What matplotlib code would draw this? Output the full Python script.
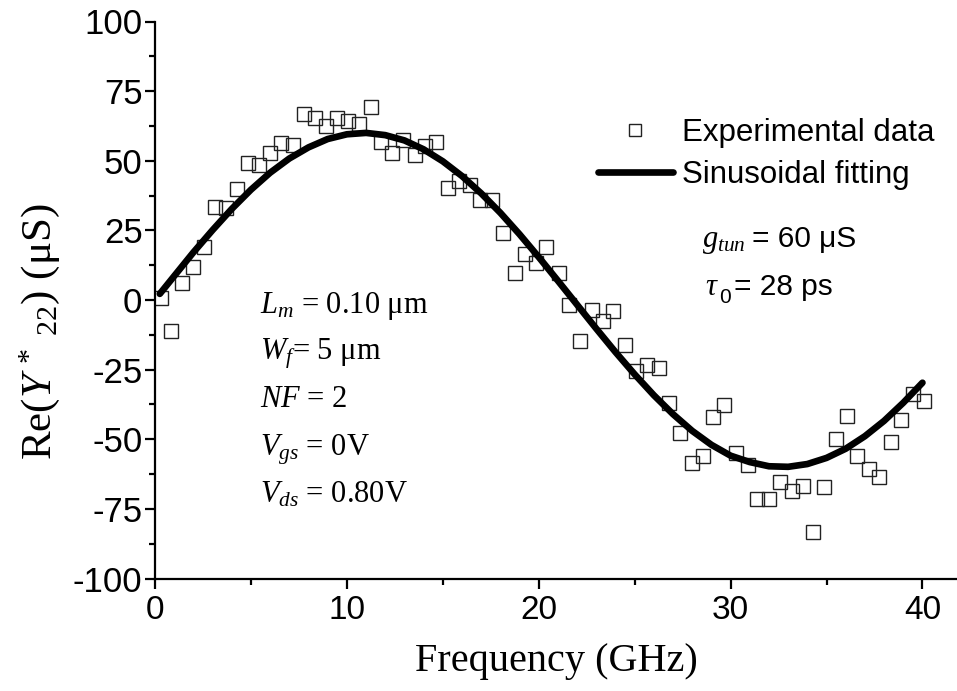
import matplotlib
matplotlib.use("Agg")
import matplotlib.pyplot as plt
from matplotlib.ticker import MultipleLocator

# ---- data ----
freq_exp = [0.33, 0.82, 1.39, 1.96, 2.55, 3.13, 3.70, 4.29, 4.86, 5.43,
            6.00, 6.58, 7.17, 7.76, 8.33, 8.91, 9.48, 10.07, 10.64, 11.25,
            11.76, 12.36, 12.93, 13.56, 14.05, 14.64, 15.26, 15.83, 16.44, 16.96,
            17.55, 18.14, 18.75, 19.31, 19.84, 20.40, 21.06, 21.56, 22.17, 22.78,
            23.35, 23.87, 24.48, 25.05, 25.66, 26.27, 26.79, 27.34, 27.98, 28.56,
            29.08, 29.65, 30.30, 30.90, 31.37, 31.99, 32.59, 33.19, 33.77, 34.27,
            34.86, 35.49, 36.08, 36.60, 37.19, 37.76, 38.37, 38.87, 39.49, 40.07]
re_exp = [0.8, -11.1, 6.0, 11.7, 18.9, 33.5, 32.9, 39.9, 49.2, 48.5,
          52.7, 56.3, 55.7, 66.8, 65.4, 62.6, 65.2, 64.3, 63.1, 69.2,
          56.6, 52.9, 57.5, 52.2, 55.3, 56.6, 40.1, 42.7, 41.3, 35.9,
          35.9, 23.9, 9.6, 16.4, 13.2, 19.1, 9.6, -1.8, -14.7, -3.6,
          -7.5, -3.8, -16.2, -25.4, -23.3, -24.5, -37.1, -47.9, -58.6, -56.0,
          -41.9, -37.7, -55.0, -59.2, -71.5, -71.5, -65.2, -68.6, -66.7, -83.2,
          -67.3, -49.9, -41.7, -55.9, -60.7, -63.7, -51.1, -43.1, -33.8, -36.2]

freq_fit = [0.25, 1, 2, 3, 4, 5, 6, 7, 8, 9, 10, 11, 12, 13, 14, 15, 16, 17, 18, 19, 20,
            21, 22, 23, 24, 25, 26, 27, 28, 29, 30, 31, 32, 33, 34, 35, 36, 37, 38, 39, 40]
re_fit = [2.2, 8.6, 17.1, 25.1, 32.7, 39.6, 45.7, 50.8, 54.8, 57.8, 59.5, 60.0, 59.2,
          57.3, 54.1, 49.8, 44.5, 38.3, 31.3, 23.6, 15.4, 6.9, -1.7, -10.3, -18.7,
          -26.7, -34.2, -41.0, -47.0, -52.0, -55.9, -58.2, -59.7, -59.9, -58.9,
          -56.7, -53.4, -48.9, -43.4, -36.9, -29.7]

x_ticks = [0, 10, 20, 30, 40]
y_ticks = [-100, -75, -50, -25, 0, 25, 50, 75, 100]

serif = ['Liberation Serif', 'DejaVu Serif']
sans = ['Liberation Sans', 'DejaVu Sans']
plt.rcParams['axes.unicode_minus'] = False
plt.rcParams['mathtext.fontset'] = 'custom'
plt.rcParams['mathtext.rm'] = 'Liberation Serif'
plt.rcParams['mathtext.it'] = 'Liberation Serif:italic'
plt.rcParams['mathtext.bf'] = 'Liberation Serif:bold'

fig = plt.figure(figsize=(9.57, 6.91), dpi=100)
ax = fig.add_axes([155/957, (691-578.5)/691, (957-155)/957, 557/691])

ax.plot(freq_exp, re_exp, linestyle='none', marker='s', markersize=10.2,
        markerfacecolor='none', markeredgecolor='#222222', markeredgewidth=1.0,
        label='Experimental data')
ax.plot(freq_fit, re_fit, color='black', linewidth=4.8, solid_capstyle='round',
        solid_joinstyle='round', label='Sinusoidal fitting')

ax.set_xlim(0, 41.8)
ax.set_ylim(-100, 100)
ax.set_xticks(x_ticks)
ax.set_yticks(y_ticks)
ax.xaxis.set_minor_locator(MultipleLocator(5))
ax.yaxis.set_minor_locator(MultipleLocator(12.5))
for s in ['top', 'right']:
    ax.spines[s].set_visible(False)
for s in ['left', 'bottom']:
    ax.spines[s].set_linewidth(1.6)
ax.tick_params(which='major', direction='out', length=7, width=1.6)
ax.tick_params(which='minor', direction='out', length=4.5, width=1.6)
ax.tick_params(axis='y', pad=2)
ax.tick_params(axis='x', pad=5)
for lab in ax.get_yticklabels():
    lab.set_family(sans)
    lab.set_fontsize(25)
for lab in ax.get_xticklabels():
    lab.set_family(sans)
    lab.set_fontsize(24)

ax.set_xlabel('Frequency (GHz)', family=serif, fontsize=29, labelpad=12)
ax.set_ylabel(r'Re($\mathit{Y}^{\,*}{}_{\ 22}$) ($\mathrm{\mu}$S)', family=serif,
              fontsize=31)
ax.yaxis.set_label_coords(-0.116, 0.4425)

leg = ax.legend(loc='upper left', bbox_to_anchor=(0.552, 0.827), frameon=False,
                prop={'family': sans, 'size': 22.5}, handlelength=2.4,
                handletextpad=0.3, labelspacing=0.4, borderpad=0,
                borderaxespad=0, markerscale=0.9)

left_lines = [r'$L_m$ = 0.10 μm', r'$W_f$= 5 μm', r'$NF$ = 2', r'$V_{gs}$ = 0V', r'$V_{ds}$ = 0.80V']
left_y = [0.4767, 0.3923, 0.3079, 0.2217, 0.1356]
for t, yy in zip(left_lines, left_y):
    ax.text(0.131, yy, t, transform=ax.transAxes, family=serif, fontsize=22,
            ha='left', va='baseline')

ax.text(0.682, 0.5957, r'$g_{tun}$', transform=ax.transAxes, family=serif,
        fontsize=22, ha='left', va='baseline')
ax.text(0.745, 0.5957, '= 60 μS', transform=ax.transAxes, family=sans,
        fontsize=21.5, ha='left', va='baseline')
ax.text(0.686, 0.509, r'$\tau$', transform=ax.transAxes, family=serif,
        fontsize=22, ha='left', va='baseline')
ax.text(0.703, 0.495, '0', transform=ax.transAxes, family=sans,
        fontsize=15, ha='left', va='baseline')
ax.text(0.722, 0.509, '= 28 ps', transform=ax.transAxes, family=sans,
        fontsize=21.5, ha='left', va='baseline')

fig.savefig('out.png', dpi=100)
